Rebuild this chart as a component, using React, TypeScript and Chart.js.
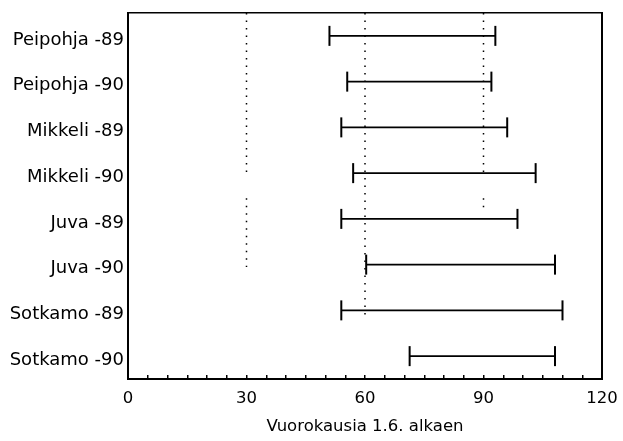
import React, { useEffect, useRef } from 'react';
import { Chart, registerables } from 'chart.js';

Chart.register(...registerables);

// ---- data ----
const categories = [
  'Peipohja -89',
  'Peipohja -90',
  'Mikkeli -89',
  'Mikkeli -90',
  'Juva -89',
  'Juva -90',
  'Sotkamo -89',
  'Sotkamo -90',
];
const rangeStart = [51, 55.5, 54, 57, 54, 60.3, 54, 71.3];
const rangeEnd = [93, 92, 96, 103.2, 98.6, 108.1, 110, 108.1];

const xTickValues = [0, 5, 10, 15, 20, 25, 30, 35, 40, 45, 50, 55, 60, 65, 70, 75, 80, 85, 90, 95, 100, 105, 110, 115, 120];
const xMajorTicks = [0, 30, 60, 90, 120];

// dotted reference lines (x value, from row, to row)
const refLineX = [30, 30, 60, 90, 90];
const refLineFrom = [-0.5, 3.55, -0.5, -0.5, 3.55];
const refLineTo = [3.1, 5.05, 6.1, 3.1, 3.85];

const xAxisTitle = 'Vuorokausia 1.6. alkaen';

const FONT = 'DejaVu Sans';

export default function App() {
  const canvasRef = useRef<HTMLCanvasElement | null>(null);

  useEffect(() => {
    if (!canvasRef.current) return;
    Chart.defaults.font.family = FONT;
    Chart.defaults.color = '#000';

    const rangeSets = categories.map((c, i) => ({
      label: c,
      data: [
        { x: rangeStart[i], y: i },
        { x: rangeEnd[i], y: i },
      ],
      showLine: true,
      borderColor: '#000',
      borderWidth: 1.8,
      pointStyle: 'line',
      pointRotation: 90,
      pointRadius: 10,
      pointHoverRadius: 10,
      pointBorderWidth: 2,
      pointHoverBorderWidth: 2,
      pointBorderColor: '#000',
      pointBackgroundColor: '#000',
      fill: false,
    }));

    const refSets = refLineX.map((x, i) => ({
      label: 'ref' + i,
      data: [
        { x, y: refLineFrom[i] },
        { x, y: refLineTo[i] },
      ],
      showLine: true,
      borderColor: '#000',
      borderWidth: 1.5,
      borderDash: [1.5, 6],
      pointRadius: 0,
      pointHoverRadius: 0,
      fill: false,
    }));

    const chart = new Chart(canvasRef.current, {
      type: 'scatter',
      data: { datasets: [...refSets, ...rangeSets] as any },
      options: {
        animation: false,
        responsive: false,
        events: [],
        layout: { padding: 0 },
        plugins: {
          legend: { display: false },
          tooltip: { enabled: false },
        },
        scales: {
          x: {
            type: 'linear',
            position: 'bottom',
            min: 0,
            max: 120,
            afterBuildTicks: (s: any) => {
              s.ticks = xTickValues.map((v) => ({ value: v }));
            },
            afterFit: (s: any) => {
              s.height = 62;
              s.paddingLeft = 0;
              s.paddingRight = 0;
            },
            ticks: {
              autoSkip: false,
              maxRotation: 0,
              padding: 14,
              font: { size: 16.5 },
              color: '#000',
              callback: (v: any) => (xMajorTicks.includes(Number(v)) ? String(v) : ''),
            },
            grid: {
              display: true,
              drawOnChartArea: false,
              drawTicks: true,
              tickLength: -4,
              color: '#000',
              lineWidth: 1.5,
            },
            border: { display: true, color: '#000', width: 2 },
            title: {
              display: true,
              text: xAxisTitle,
              font: { size: 16.5 },
              color: '#000',
              padding: { top: 0, bottom: 4 },
            },
          },
          x2: {
            type: 'linear',
            position: 'top',
            min: 0,
            max: 120,
            afterFit: (s: any) => {
              s.height = 13;
              s.paddingLeft = 0;
              s.paddingRight = 0;
            },
            ticks: { display: false },
            grid: { display: false, drawTicks: false },
            border: { display: true, color: '#000', width: 1.6 },
          },
          y: {
            type: 'linear',
            position: 'left',
            min: -0.5,
            max: 7.5,
            reverse: true,
            afterBuildTicks: (s: any) => {
              s.ticks = categories.map((_, i) => ({ value: i }));
            },
            afterFit: (s: any) => {
              s.width = 128;
              s.paddingTop = 0;
              s.paddingBottom = 0;
            },
            ticks: {
              autoSkip: false,
              padding: 4,
              labelOffset: 4,
              font: { size: 18 },
              color: '#000',
              callback: (v: any) => categories[Number(v)] ?? '',
            },
            grid: { display: false, drawTicks: false },
            border: { display: true, color: '#000', width: 2 },
          },
          y2: {
            type: 'linear',
            position: 'right',
            min: -0.5,
            max: 7.5,
            reverse: true,
            afterFit: (s: any) => {
              s.width = 21;
              s.paddingTop = 0;
              s.paddingBottom = 0;
            },
            ticks: { display: false },
            grid: { display: false, drawTicks: false },
            border: { display: true, color: '#000', width: 2 },
          },
        },
      } as any,
    });

    return () => chart.destroy();
  }, []);

  return (
    <div style={{ position: 'absolute', left: 0, top: 0, width: 623, height: 441, background: '#fff' }}>
      <canvas ref={canvasRef} width={623} height={441} style={{ display: 'block', width: 623, height: 441 }} />
    </div>
  );
}
